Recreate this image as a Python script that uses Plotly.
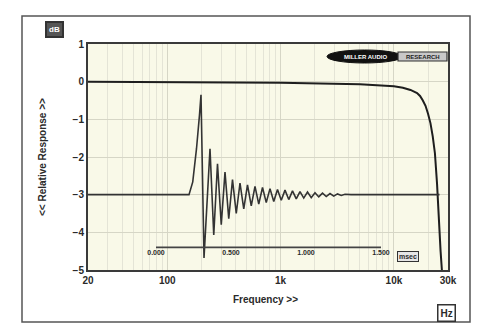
import plotly.graph_objects as go
import math

# Frequency response (Hz, dB)
freq_hz = [20, 100, 1000, 5000, 10000, 12000, 14000, 16000, 17000, 18000, 19000,
           20000, 21000, 22000, 23000, 24000, 24600, 25200, 25800, 26500]
resp_db = [0.0, -0.01, -0.03, -0.07, -0.12, -0.16, -0.22, -0.30, -0.38, -0.50, -0.64,
           -0.85, -1.10, -1.45, -1.90, -2.70, -3.40, -4.00, -4.50, -5.00]

# Impulse response (msec, plotted on the same vertical scale)
imp_ms = [-0.46, 0.22, 0.245, 0.27, 0.29, 0.30, 0.32, 0.36, 0.385, 0.41, 0.435, 0.46,
          0.485, 0.51, 0.535, 0.56, 0.585, 0.61, 0.635, 0.66, 0.685, 0.71, 0.735,
          0.76, 0.785, 0.81, 0.835, 0.86, 0.885, 0.91, 0.935, 0.96, 0.985, 1.01,
          1.035, 1.06, 1.085, 1.11, 1.135, 1.16, 1.185, 1.21, 1.235, 1.26, 1.30, 1.89]
imp_val = [-3.0, -3.0, -2.66, -1.78, -0.88, -0.35, -4.68, -1.78, -4.07, -2.18, -3.80, -2.40,
           -3.64, -2.60, -3.50, -2.69, -3.38, -2.74, -3.30, -2.78, -3.25, -2.81, -3.21,
           -2.84, -3.18, -2.86, -3.15, -2.88, -3.13, -2.90, -3.11, -2.92, -3.09, -2.93,
           -3.08, -2.95, -3.06, -2.96, -3.05, -2.97, -3.04, -2.98, -3.02, -2.99, -3.0, -3.0]

x_tickvals = [20, 100, 1000, 10000, 30000]
x_ticktext = ["20", "100", "1k", "10k", "30k"]
x_minor = [30, 40, 50, 60, 70, 80, 90, 200, 300, 400, 500, 600, 700, 800, 900,
           2000, 3000, 4000, 5000, 6000, 7000, 8000, 9000, 20000]
y_tickvals = [1, 0, -1, -2, -3, -4, -5]
t_tickvals = [0.0, 0.5, 1.0, 1.5]
t_ticktext = ["0.000", "0.500", "1.000", "1.500"]
time_axis_level = -4.4

W, H = 477, 333
L, R, T, B = 88, 29, 44, 63
pw, ph = W - L - R, H - T - B

def px(xp):
    return (xp - L) / pw

def py(yp):
    return (H - B - yp) / ph

ink = "#2a2a2a"
fig = go.Figure()
fig.add_trace(go.Scatter(x=freq_hz, y=resp_db, mode="lines",
                         line=dict(color="#1e1e1e", width=2), showlegend=False))
fig.add_trace(go.Scatter(x=imp_ms, y=imp_val, mode="lines", xaxis="x2",
                         line=dict(color="#333333", width=1.6), showlegend=False))

fontb = dict(family="Liberation Sans, Arial, sans-serif", size=10, color=ink, weight="bold")

fig.update_layout(
    width=W, height=H,
    margin=dict(l=L, r=R, t=T, b=B),
    paper_bgcolor="white",
    plot_bgcolor="#f9f9e8",
    xaxis=dict(type="log", range=[math.log10(20), math.log10(30000)],
               tickvals=x_tickvals, ticktext=x_ticktext, tickfont=fontb,
               showgrid=True, gridcolor="#d6d6c6", gridwidth=1,
               minor=dict(tickvals=x_minor, showgrid=True, gridcolor="#e4e4d6", ticks=""),
               showline=True, linecolor="#3a3a3a", linewidth=2, mirror=True,
               ticks="", zeroline=False),
    xaxis2=dict(overlaying="x", anchor="free", position=(time_axis_level + 5) / 6,
                side="bottom",
                range=[(L - 156) / 150, (L + pw - 156) / 150],
                tickvals=t_tickvals, ticktext=t_ticktext,
                tickfont=dict(family="Liberation Sans, Arial, sans-serif", size=7,
                              color=ink, weight="bold"),
                showgrid=False, showline=False, ticks="", zeroline=False),
    yaxis=dict(range=[-5, 1], tickvals=y_tickvals, tickfont=fontb,
               showgrid=True, gridcolor="#d6d6c6", gridwidth=1,
               showline=True, linecolor="#3a3a3a", linewidth=2, mirror=True,
               ticks="", zeroline=False),
)

# inset time axis line
fig.add_shape(type="line", xref="x2", yref="y", x0=min(t_tickvals), x1=max(t_tickvals),
              y0=time_axis_level, y1=time_axis_level, line=dict(color="#444", width=1.6))
# outer frame
fig.add_shape(type="rect", xref="paper", yref="paper", x0=px(22), x1=px(470),
              y0=py(322), y1=py(16), line=dict(color="#555", width=1.5), layer="below")
# logo
fig.add_shape(type="circle", xref="paper", yref="paper", x0=px(327), x1=px(402),
              y0=py(63), y1=py(50), fillcolor="#111", line=dict(color="#111", width=1))
fig.add_shape(type="rect", xref="paper", yref="paper", x0=px(398), x1=px(447),
              y0=py(61), y1=py(52), fillcolor="#c8c8c8", line=dict(color="#333", width=1.2))

def note(x, y, text, font, **kw):
    fig.add_annotation(xref="paper", yref="paper", x=x, y=y, text=text, showarrow=False,
                       xanchor="center", yanchor="middle", font=font, **kw)

note(px(365), py(56.5), "MILLER AUDIO",
     dict(family="Liberation Sans", size=6, color="white", weight="bold"))
note(px(423), py(56.5), "RESEARCH",
     dict(family="Liberation Sans", size=6, color="#222", weight="bold"))
# titles and unit boxes
note(px(42), 0.5, "<< Relative Response >>", fontb, textangle=-90)
note(px(265), py(299), "Frequency >>", fontb)
note(px(446), py(313), "Hz", fontb, bordercolor="#333", borderwidth=1.5,
     borderpad=2, bgcolor="white")
note(px(54), py(30), "dB", dict(family="Liberation Sans", size=8, color="white", weight="bold"),
     bordercolor="#333", borderwidth=2, borderpad=2, bgcolor="#555")
fig.add_annotation(xref="x2", yref="y", x=max(t_tickvals), y=time_axis_level,
                   xanchor="left", yanchor="middle", xshift=16, yshift=-9, text="msec",
                   showarrow=False,
                   font=dict(family="Liberation Sans", size=7, color=ink, weight="bold"),
                   bordercolor="#333", borderwidth=1, borderpad=1, bgcolor="#e6e6e6")

fig.write_html("out.html", config={"displayModeBar": False},
               post_script="document.body.style.margin='0';")
